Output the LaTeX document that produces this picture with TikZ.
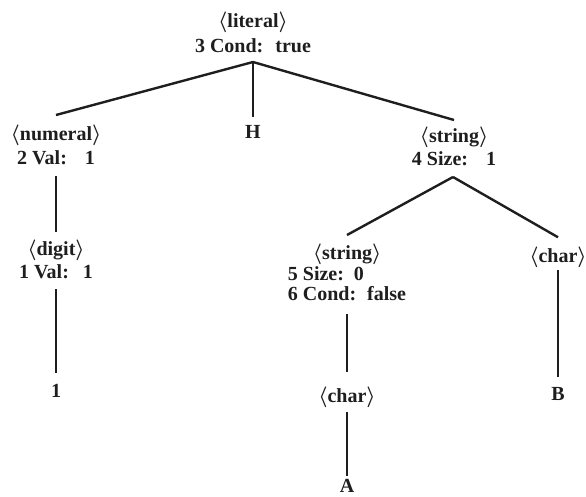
\documentclass[tikz,border=0pt]{standalone}
\usepackage{fontspec}
\setmainfont{Liberation Serif}
\definecolor{ink}{HTML}{1E1E1E}
\newcommand\angl[1]{$\langle$#1$\rangle$}
\begin{document}
\begin{tikzpicture}[x=1pt,y=-1pt,
  tn/.style={inner sep=0pt, text=ink, align=center},
  f/.style={font=\fontsize{20}{#1}\selectfont\bfseries\boldmath},
  edge/.style={draw=ink, line width=2.4pt}]
\useasboundingbox (0,0) rectangle (586,496);
% nodes
\node[tn, f=25, anchor=north] (lit) at (253,12) {\angl{literal}\\3 Cond:\hspace{12pt}true};
\node[tn, f=24, anchor=north] (num) at (56,125) {\angl{numeral}\\2 Val:\hspace{18pt}1};
\node[tn, f=24, anchor=base] (H) at (253,138) {H};
\node[tn, f=23, anchor=north] (str4) at (454,127) {\angl{string}\\4 Size:\hspace{18pt}1};
\node[tn, f=23, anchor=north] (dig) at (56,240) {\angl{digit}\\1 Val:\hspace{14pt}1};
\node[tn, f=24, anchor=base] (one) at (56,397) {1};
\node[tn, f=20.5, anchor=north, align=left] (str5) at (347,244) {\hspace*{25pt}\angl{string}\\5 Size:\hspace{10pt}0\\6 Cond:\hspace{11pt}false};
\node[tn, f=24, anchor=base] (charB) at (558,262) {\angl{char}};
\node[tn, f=24, anchor=base] (B) at (558,400) {B};
\node[tn, f=24, anchor=base] (charA) at (347,402) {\angl{char}};
\node[tn, f=24, anchor=base] (A) at (347,492) {A};
\coordinate (litapex) at (253,62);
\coordinate (strapex) at (453,177);
% connectors
\draw[edge] (litapex) -- ([yshift=10pt]num.north);
\draw[edge] (litapex) -- ([yshift=8pt]H.north);
\draw[edge] (litapex) -- ([yshift=7pt]str4.north);
\draw[edge] ([yshift=-11pt]num.south) -- ([yshift=8pt]dig.north);
\draw[edge] ([yshift=-10pt]dig.south) -- ([yshift=11pt]one.north);
\draw[edge] (strapex) -- ([yshift=9pt]str5.north);
\draw[edge] (strapex) -- ([yshift=9pt]charB.north);
\draw[edge] ([yshift=-13pt]str5.south) -- ([yshift=14pt]charA.north);
\draw[edge] ([yshift=-5pt]charA.south) -- ([yshift=3pt]A.north);
\draw[edge] ([yshift=-3pt]charB.south) -- ([yshift=10pt]B.north);
\end{tikzpicture}
\end{document}
